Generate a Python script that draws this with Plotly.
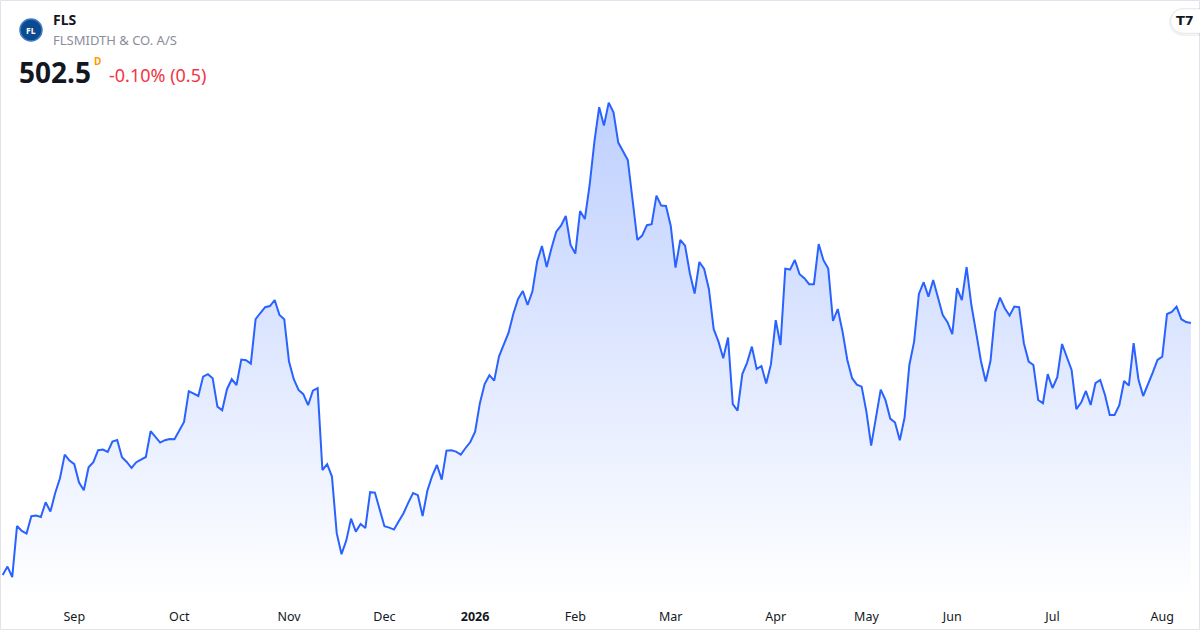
import plotly.graph_objects as go

# daily closes, FLS (DKK)
close = [
    376.5, 380.7, 375.4, 401.0, 398.5, 397.2, 405.9, 406.2, 405.5, 412.9,
    408.2, 417.5, 424.9, 436.7, 433.7, 431.9, 422.7, 418.9, 430.4, 432.9,
    438.9, 439.2, 438.0, 443.2, 444.0, 435.4, 433.0, 430.0, 432.9, 434.0,
    435.5, 448.4, 445.7, 442.7, 443.9, 444.5, 444.4, 448.7, 453.0, 468.4,
    467.2, 466.0, 475.7, 476.9, 474.9, 460.7, 458.9, 469.4, 474.4, 471.5,
    484.2, 483.9, 482.2, 504.4, 507.5, 510.4, 511.0, 514.0, 506.5, 504.4,
    483.2, 474.4, 469.0, 466.9, 461.4, 468.7, 469.9, 429.0, 431.9, 425.7,
    397.4, 386.9, 393.7, 404.7, 398.2, 402.0, 400.0, 417.9, 417.7, 409.4,
    400.9, 400.2, 399.2, 403.4, 407.4, 412.7, 417.5, 416.4, 406.0, 418.7,
    426.0, 431.5, 424.2, 438.7, 438.9, 438.2, 436.7, 440.0, 443.0, 448.2,
    462.4, 472.0, 476.4, 473.7, 485.7, 491.7, 497.5, 507.0, 514.5, 518.5,
    511.5, 518.2, 533.2, 541.0, 530.5, 539.9, 548.2, 551.2, 556.0, 541.5,
    537.2, 558.5, 554.5, 571.5, 593.2, 610.4, 601.2, 612.7, 607.9, 592.7,
    588.2, 584.0, 564.0, 544.0, 546.2, 551.4, 551.9, 566.2, 561.2, 561.0,
    551.0, 530.2, 544.0, 541.2, 527.4, 517.2, 533.0, 529.5, 519.4, 499.4,
    493.2, 484.9, 495.2, 461.9, 458.7, 477.0, 482.7, 490.7, 479.5, 481.0,
    472.2, 481.9, 503.9, 491.5, 529.7, 529.2, 534.0, 526.9, 524.9, 521.9,
    521.9, 542.0, 533.9, 529.7, 503.5, 509.5, 498.2, 484.0, 474.9, 471.7,
    470.7, 458.2, 441.2, 454.9, 469.2, 463.9, 454.7, 452.7, 443.9, 455.2,
    481.5, 493.2, 517.0, 522.9, 515.7, 524.0, 515.2, 506.5, 502.9, 496.9,
    519.9, 513.9, 530.5, 511.5, 497.7, 483.5, 473.2, 483.5, 508.2, 515.2,
    509.9, 506.2, 510.7, 510.4, 492.4, 483.2, 481.5, 464.0, 462.4, 476.9,
    470.0, 475.4, 492.0, 485.7, 479.0, 459.4, 462.7, 468.5, 461.5, 472.4,
    474.0, 466.5, 456.5, 456.5, 461.4, 473.5, 471.2, 492.4, 474.4, 466.0,
    471.5, 477.7, 484.0, 485.7, 507.0, 508.0, 510.7, 504.4, 503.0, 502.5,
]

# first trading day of each month (index into close) and its label
tick_pos = [15, 37, 60, 80, 99, 120, 140, 162, 181, 199, 220, 243]
tick_text = ["Sep", "Oct", "Nov", "Dec", "<b>2026</b>", "Feb", "Mar", "Apr",
             "May", "Jun", "Jul", "Aug"]

symbol = "FLS"
name = "FLSMIDTH & CO. A/S"
last = close[-1]
chg = close[-1] - close[-2]
chg_pct = chg / close[-2] * 100

W, H = 1200, 630
ML, MR, MT, MB = 1, 1, 1, 30
PW, PH = W - ML - MR, H - MT - MB
FONT = "Noto Sans"


def px(x):
    return (x - ML) / PW


def py(y):
    return 1 - (y - MT) / PH


def pill(x0, y0, y1, x1):
    # left-rounded pill, pixel coords -> paper path
    r = (y1 - y0) / 2
    k = 0.55 * r
    pts = [
        "M%f,%f" % (px(x1), py(y0)),
        "L%f,%f" % (px(x0 + r), py(y0)),
        "C%f,%f %f,%f %f,%f" % (px(x0 + r - k), py(y0), px(x0), py(y0 + r - k), px(x0), py(y0 + r)),
        "C%f,%f %f,%f %f,%f" % (px(x0), py(y0 + r + k), px(x0 + r - k), py(y1), px(x0 + r), py(y1)),
        "L%f,%f" % (px(x1), py(y1)),
        "Z",
    ]
    return " ".join(pts)


fig = go.Figure()
fig.add_trace(go.Scatter(
    x=list(range(len(close))), y=close, mode="lines",
    line=dict(color="#2962FF", width=2),
    fill="tozeroy",
    fillgradient=dict(type="vertical",
                      colorscale=[[0, "rgba(41,98,255,0)"], [1, "rgba(41,98,255,0.3)"]],
                      start=364, stop=max(close)),
    hoverinfo="skip", showlegend=False,
))

ann = [
    dict(x=px(51), y=py(20), text="<b>" + symbol + "</b>", font=dict(size=14, color="#131722")),
    dict(x=px(51), y=py(40), text=name, font=dict(size=13, color="#8a8e99")),
    dict(x=px(17), y=py(72), text="<b>%.1f</b>" % last, font=dict(size=28, color="#131722")),
    dict(x=px(92), y=py(61), text="<b>D</b>", font=dict(size=10, color="#ff9800")),
    dict(x=px(107), y=py(75), text="%.2f%% (%.1f)" % (chg_pct, abs(chg)),
         font=dict(size=18, color="#f23645")),
    dict(x=px(31), y=py(30.5), text="<b>FL</b>", xanchor="center",
         font=dict(size=8.5, color="white")),
    dict(x=px(1185), y=py(20.5), text="<b>T7</b>", xanchor="center",
         font=dict(size=13, color="#131722", family="DejaVu Sans")),
]
for a in ann:
    a.setdefault("xanchor", "left")
    a["font"].setdefault("family", FONT)
    a.update(xref="paper", yref="paper", yanchor="middle", showarrow=False)

shapes = [
    # outer frame
    dict(type="rect", xref="paper", yref="paper",
         x0=px(0.5), x1=px(W - 0.5), y0=py(H - 0.5), y1=py(0.5),
         line=dict(color="#e0e3eb", width=1), fillcolor="rgba(0,0,0,0)"),
    # logo badge
    dict(type="circle", xref="paper", yref="paper",
         x0=px(20), x1=px(42), y0=py(41), y1=py(19),
         fillcolor="#0b4a8f", line=dict(color="#3d7cc4", width=1.5)),
    # TradingView pill with soft shadow
    dict(type="path", xref="paper", yref="paper", path=pill(1169, 8, 36, 1205),
         fillcolor="rgba(0,0,0,0.05)", line=dict(width=0)),
    dict(type="path", xref="paper", yref="paper", path=pill(1171, 9, 33, 1205),
         fillcolor="white", line=dict(color="rgba(0,0,0,0.06)", width=1)),
]

fig.update_layout(
    width=W, height=H,
    margin=dict(l=ML, r=MR, t=MT, b=MB),
    paper_bgcolor="white", plot_bgcolor="white",
    annotations=ann, shapes=shapes,
    xaxis=dict(range=[-0.356, 250.7], tickvals=tick_pos, ticktext=tick_text,
               showgrid=False, zeroline=False, showline=False,
               ticks="outside", ticklen=5, tickcolor="rgba(0,0,0,0)",
               tickfont=dict(family=FONT, size=12.5, color="#131722")),
    yaxis=dict(range=[364, 663.5], visible=False, fixedrange=True),
    hovermode=False,
)

fig.write_html("out.html", config={"displayModeBar": False},
               post_script="document.body.style.margin='0';")
